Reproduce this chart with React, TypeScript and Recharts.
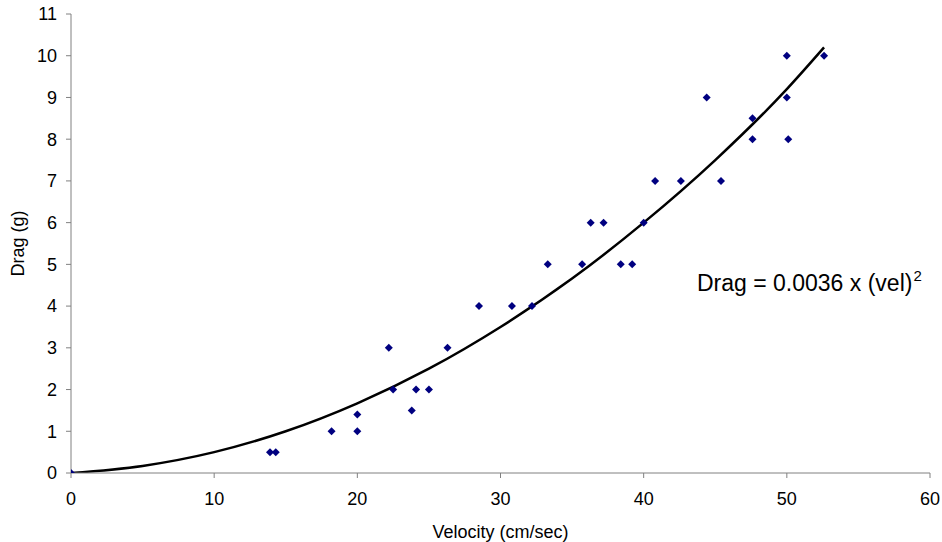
import { ComposedChart, Scatter, Line, XAxis, YAxis } from 'recharts'

// measured points (velocity cm/sec, drag g)
const velocity = [0, 13.9, 14.3, 18.2, 20, 20, 22.2, 22.5, 23.8, 24.1, 25, 26.3, 28.5, 30.8, 32.2, 33.3, 35.7, 36.3, 37.2, 38.4, 39.2, 40, 40.8, 42.6, 44.4, 45.4, 47.6, 47.6, 50, 50, 50.1, 52.6]
const drag = [0, 0.5, 0.5, 1, 1, 1.4, 3, 2, 1.5, 2, 2, 3, 4, 4, 4, 5, 5, 6, 6, 5, 5, 6, 7, 7, 9, 7, 8.5, 8, 10, 9, 8, 10]

// trend curve
const curveVel = [0, 5, 10, 15, 20, 25, 30, 35, 40, 45, 50, 52.6]
const curveDrag = [0, 0.17, 0.5, 1.0, 1.67, 2.5, 3.5, 4.66, 6.0, 7.5, 9.2, 10.2]

const xTicks = [0, 10, 20, 30, 40, 50, 60]
const yTicks = [0, 1, 2, 3, 4, 5, 6, 7, 8, 9, 10, 11]

const points = velocity.map((v, i) => ({ vel: v, drag: drag[i] }))
const curve = curveVel.map((v, i) => ({ vel: v, drag: curveDrag[i] }))

const FONT = '"Liberation Sans", Arial, sans-serif'
const AXIS = '#808080'

const Diamond = (props: any) => {
  const { cx, cy } = props
  if (cx == null || cy == null) return null
  const r = 4
  return (
    <polygon
      points={`${cx},${cy - r} ${cx + r},${cy} ${cx},${cy + r} ${cx - r},${cy}`}
      fill="#000080"
    />
  )
}

export default function App() {
  return (
    <div style={{ position: 'absolute', left: 0, top: 0, width: 942, height: 542, background: '#fff', fontFamily: FONT }}>
      <ComposedChart width={942} height={542} margin={{ top: 14, right: 12, left: 6, bottom: 0 }}>
        <XAxis
          type="number"
          dataKey="vel"
          domain={[0, 60]}
          ticks={xTicks}
          allowDataOverflow
          height={69}
          stroke={AXIS}
          tickSize={5}
          tickMargin={14}
          tick={{ fill: '#000', fontSize: 18, fontFamily: FONT }}
          label={{ value: 'Velocity (cm/sec)', position: 'insideBottom', offset: 4, fill: '#000', fontSize: 18, fontFamily: FONT }}
        />
        <YAxis
          type="number"
          dataKey="drag"
          domain={[0, 11]}
          ticks={yTicks}
          allowDataOverflow
          width={65}
          stroke={AXIS}
          tickSize={5}
          tickMargin={9}
          tick={{ fill: '#000', fontSize: 18, fontFamily: FONT }}
          label={{ value: 'Drag (g)', angle: -90, position: 'insideLeft', offset: 12, fill: '#000', fontSize: 18, fontFamily: FONT, style: { textAnchor: 'middle' } }}
        />
        <Line
          data={curve}
          dataKey="drag"
          type="monotone"
          stroke="#000"
          strokeWidth={2.5}
          dot={false}
          activeDot={false}
          isAnimationActive={false}
        />
        <Scatter data={points} dataKey="drag" shape={Diamond} isAnimationActive={false} />
      </ComposedChart>
      <div style={{ position: 'absolute', left: 697, top: 272, fontSize: 23, lineHeight: '23px', color: '#000', whiteSpace: 'nowrap' }}>
        Drag = 0.0036 x (vel)<sup style={{ fontSize: 15, verticalAlign: 'top', position: 'relative', top: -8, marginLeft: 1 }}>2</sup>
      </div>
    </div>
  )
}
